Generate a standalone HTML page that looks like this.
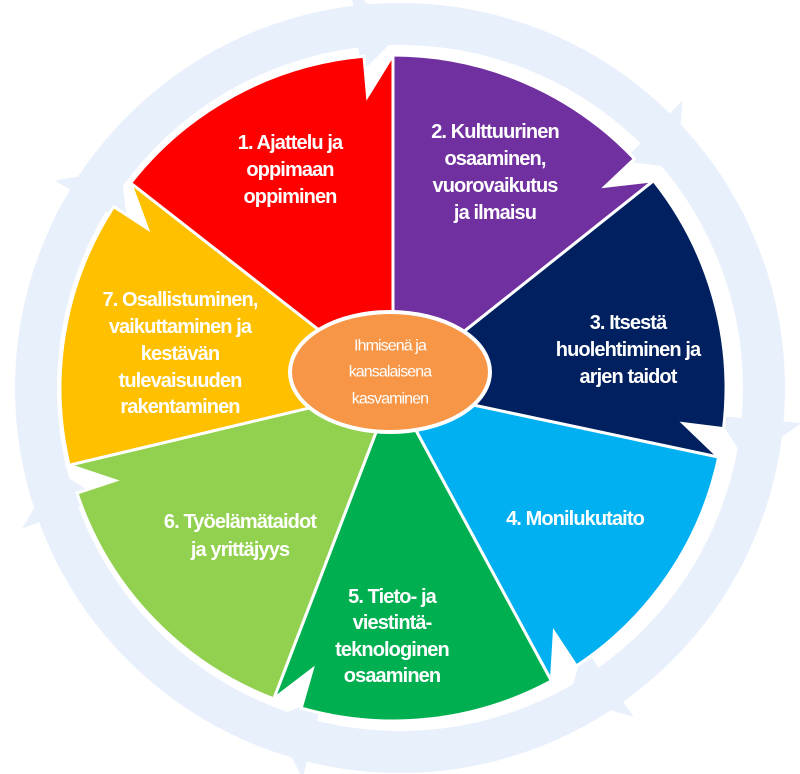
<!DOCTYPE html>
<html><head><meta charset="utf-8"><style>
html,body{margin:0;padding:0;background:#fff;}
svg{display:block;}
text{font-family:"Liberation Sans Narrow","Liberation Sans",sans-serif;font-weight:bold;fill:#fff;text-anchor:middle;dominant-baseline:central;letter-spacing:-0.9px;}
</style></head><body>
<svg id="s" width="800" height="774" viewBox="0 0 800 774" xmlns="http://www.w3.org/2000/svg">
<g id="ring"></g>
<g id="sec"></g>
<ellipse cx="390" cy="372" rx="100" ry="60" fill="#f79646" stroke="#fff" stroke-width="4"/>
<g font-size="20">
<text x="290" y="143">1. Ajattelu ja</text><text x="290" y="170">oppimaan</text><text x="290" y="197">oppiminen</text>
<text x="495" y="132">2. Kulttuurinen</text><text x="495" y="159">osaaminen,</text><text x="495" y="186">vuorovaikutus</text><text x="495" y="213">ja ilmaisu</text>
<text x="628" y="323">3. Itsestä</text><text x="628" y="350">huolehtiminen ja</text><text x="628" y="377">arjen taidot</text>
<text x="575" y="519">4. Monilukutaito</text>
<text x="392" y="597">5. Tieto- ja</text><text x="392" y="623">viestintä-</text><text x="392" y="650">teknologinen</text><text x="392" y="676">osaaminen</text>
<text x="240" y="522">6. Työelämätaidot</text><text x="240" y="550">ja yrittäjyys</text>
<text x="180" y="300">7. Osallistuminen,</text><text x="180" y="327">vaikuttaminen ja</text><text x="180" y="354">kestävän</text><text x="180" y="381">tulevaisuuden</text><text x="180" y="407">rakentaminen</text>
</g>
<g font-size="16">
<text x="390" y="346" style="font-weight:normal">Ihmisenä ja</text><text x="390" y="372" style="font-weight:normal">kansalaisena</text><text x="390" y="399" style="font-weight:normal">kasvaminen</text>
</g>
</svg>
<script>
(function(){
var NS="http://www.w3.org/2000/svg";
var cx=393,cy=388,R=333;
function P(a,r){var t=a*Math.PI/180;return [cx+r*Math.cos(t),cy+r*Math.sin(t)];}
function f(p){return p[0].toFixed(1)+","+p[1].toFixed(1);}
var b=[-142,-90,-38.5,12,61.6,111,166.6,218];
var cols=["#ff0000","#7030a0","#002060","#00b0f0","#00b050","#92d050","#ffc000"];
var sec=document.getElementById("sec");
for(var i=0;i<7;i++){
 var a1=b[i],a2=b[i+1],d=5;
 var p0=P(a1,R),pa=P(a2-d,R),pn=P(a2-d,R-40),pe=P(a2,R);
 var path="M"+cx+","+cy+" L"+f(p0)+" A"+R+","+R+" 0 0 1 "+f(pa)+" L"+f(pn)+" L"+f(pe)+" Z";
 var e=document.createElementNS(NS,"path");
 e.setAttribute("d",path);e.setAttribute("fill",cols[i]);e.setAttribute("stroke","#fff");e.setAttribute("stroke-width","3");e.setAttribute("stroke-linejoin","miter");
 sec.appendChild(e);
}
var ring=document.getElementById("ring");
var rcx=400,rcy=388,r1=343,r2=385;
var c=document.createElementNS(NS,"circle");
c.setAttribute("cx",rcx);c.setAttribute("cy",rcy);c.setAttribute("r",(r1+r2)/2);
c.setAttribute("fill","none");c.setAttribute("stroke","#e8f0fc");c.setAttribute("stroke-width",r2-r1);
ring.appendChild(c);
function Q(ang,r){var t=ang*Math.PI/180;return [rcx+r*Math.cos(t),rcy+r*Math.sin(t)];}
for(var j=0;j<7;j++){
 var a=b[j+1];
 var t1=Q(a-7,r1-25),t2=Q(a-7,r2+18),tip=Q(a,(r1+r2)/2-10);
 var g=document.createElementNS(NS,"path");
 g.setAttribute("d","M"+f(t1)+" L"+f(t2)+" L"+f(tip)+" Z");
 g.setAttribute("fill","#e8f0fc");
 ring.appendChild(g);
}
})();
</script>
</body></html>
